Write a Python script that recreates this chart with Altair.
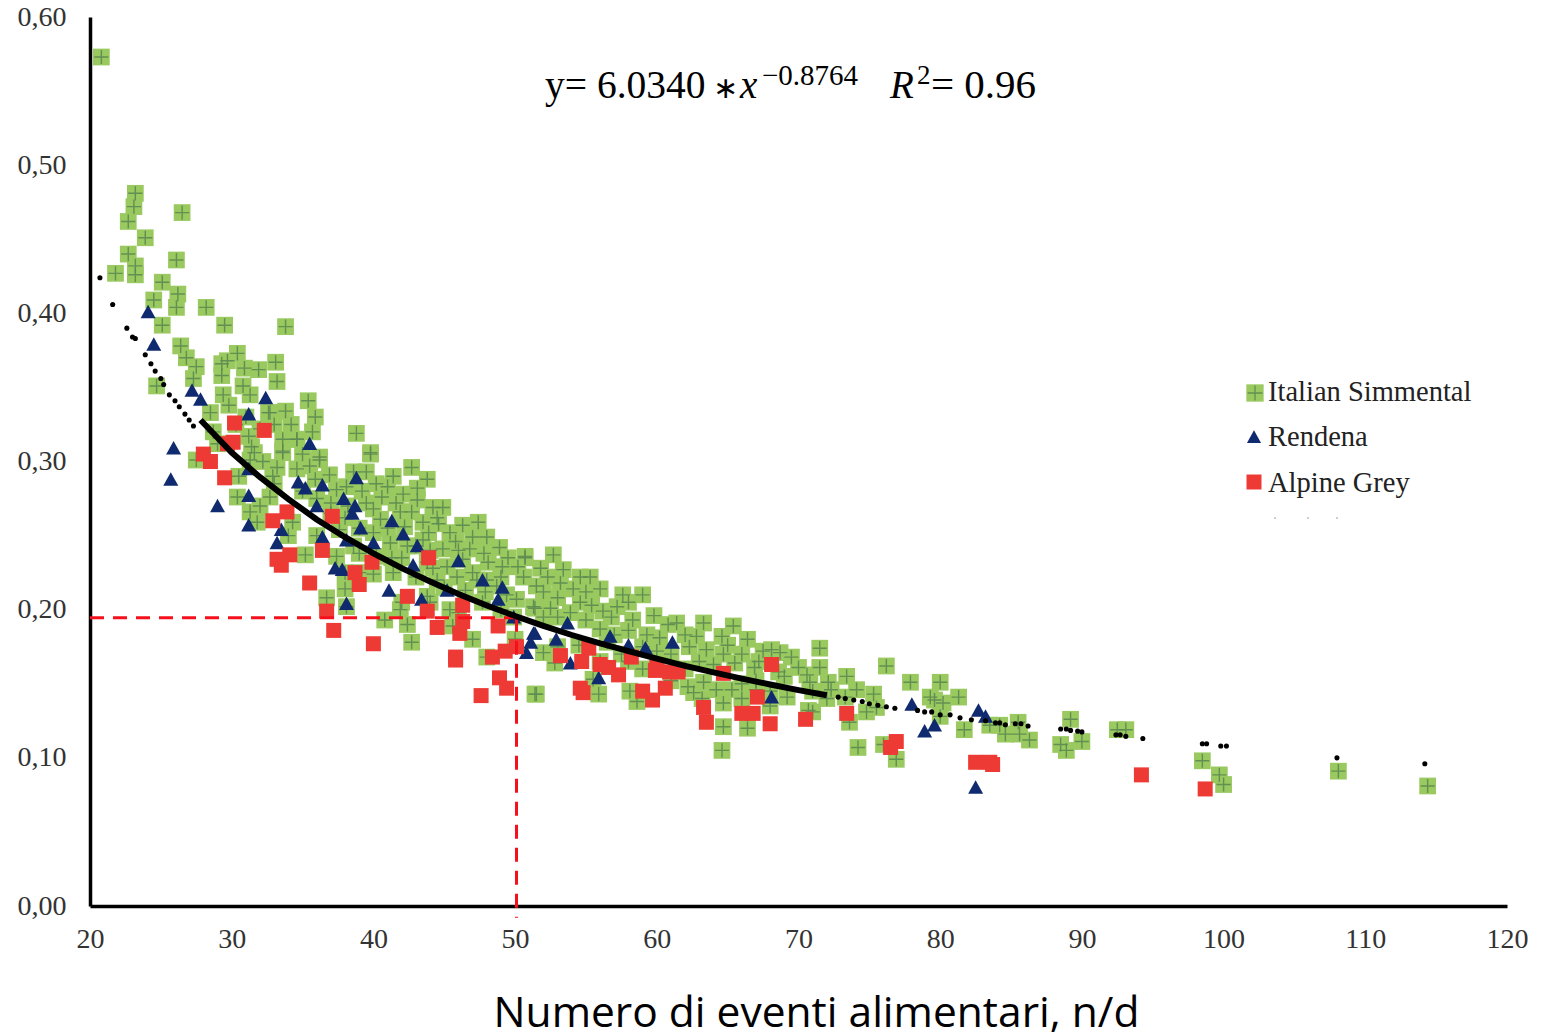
import altair as alt
import pandas as pd

simmental = [
(20.8,.573),(23.2,.481),(23.1,.472),(22.7,.462),(26.5,.468),(23.9,.451),(22.7,.440),(23.2,.432),(23.2,.426),(21.8,.427),
(26.1,.436),(25.1,.421),(26.2,.413),(24.5,.409),(26.1,.404),(28.2,.404),(25.1,.392),(29.5,.392),(33.8,.391),(26.4,.378),
(26.8,.370),(27.5,.364),(27.3,.356),(24.7,.351),(29.3,.366),(29.7,.368),(30.4,.373),(30.9,.363),(31.9,.362),(33.1,.367),
(33.2,.354),(29.3,.358),(30.8,.351),(29.4,.345),(31.3,.345),(35.4,.341),(33.8,.334),(35.9,.330),(32.6,.333),(29.8,.338),
(28.5,.333),(35.7,.320),(38.8,.319),(28.7,.320),(31.2,.317),(33.6,.315),(34.6,.315),(31.4,.310),(33.6,.306),(39.8,.306),
(36.2,.303),(32.7,.333),(39.8,.305),(39.5,.293),(38.6,.293),(42.7,.296),(41.0,.283),(43.1,.282),(42.1,.278),(40.6,.276),
(44.9,.269),(44.2,.269),(43.1,.274),(42.7,.266),(33.6,.307),(34.6,.315),(31.6,.306),(36.2,.301),(34.6,.295),(36.9,.291),
(35.5,.297),(32.9,.290),(31.3,.301),(27.5,.301),(30.4,.276),(32.7,.276),(34.3,.259),(31.3,.266),(31.8,.259),(35.2,.237),
(39.5,.272),(38.1,.283),(40.5,.261),(41.9,.266),(43.5,.259),(45.4,.252),(44.9,.241),(46.3,.257),(47.4,.259),(48.0,.249),
(48.9,.242),(50.7,.235),(50.2,.229),(48.1,.232),(47.0,.249),(49.1,.229),(46.3,.234),(45.2,.229),(43.8,.232),(41.2,.245),
(42.4,.243),(43.5,.247),(38.6,.243),(37.6,.254),(37.4,.236),(41.4,.225),(40.0,.224),(44.5,.220),(45.9,.222),(47.3,.220),
(48.7,.216),(50.1,.207),(49.4,.210),(51.5,.216),(51.3,.202),(47.7,.205),(45.4,.200),(43.8,.209),(41.9,.200),(40.8,.193),
(42.4,.190),(42.7,.178),(36.7,.208),(38.0,.214),(38.1,.202),(45.6,.189),(47.0,.180),(48.0,.168),(51.4,.143),(49.9,.195),
(52.7,.237),(50.7,.236),(53.4,.227),(52.3,.222),(54.6,.222),(55.3,.222),(56.0,.214),(54.1,.214),(52.0,.212),(53.0,.208),
(57.6,.210),(59.0,.210),(54.6,.205),(51.4,.201),(56.2,.199),(58.3,.193),(56.8,.195),(52.5,.201),(53.9,.198),(58.0,.186),
(61.4,.191),(63.3,.191),(65.4,.189),(62.0,.183),(64.6,.182),(66.4,.180),(60.2,.181),(59.3,.183),(62.3,.175),(63.5,.173),
(71.5,.174),(68.7,.171),(67.5,.172),(68.1,.173),(64.7,.170),(65.5,.164),(66.9,.161),(70.0,.161),(71.5,.161),(76.2,.162),
(73.4,.155),(77.9,.151),(80.0,.151),(72.1,.151),(70.8,.151),(63.3,.151),(62.2,.148),(65.3,.146),(64.2,.146),(74.1,.146),
(75.3,.143),(79.3,.141),(73.3,.141),(69.2,.141),(70.7,.132),(74.8,.131),(75.5,.134),(80.2,.137),(80.0,.128),(58.1,.145),
(55.9,.143),(58.6,.138),(51.5,.143),(64.7,.121),(64.7,.137),(66.4,.120),(71.0,.131),(64.6,.105),(74.2,.107),(76.9,.099),
(76.0,.109),(73.6,.124),(52.0,.171),(52.8,.164),(62.6,.144),(55.5,.153),(81.3,.141),(79.6,.139),(81.7,.119),(83.5,.122),
(84.2,.122),(85.5,.124),(84.6,.116),(85.6,.116),(86.3,.112),(89.2,.126),(88.5,.109),(88.9,.105),(90.0,.111),(92.5,.119),
(93.1,.119),(98.5,.098),(99.7,.0885),(100.0,.082),(108.1,.091),(114.4,.081),
(33.0,.285),(35.0,.280),(36.0,.275),(37.0,.265),(38.0,.262),(39.0,.255),(40.0,.252),(41.0,.255),(42.0,.235),(43.0,.243),
(44.0,.240),(46.0,.240),(47.0,.225),(48.0,.220),(49.0,.222),(52.0,.195),(53.0,.195),(55.0,.193),(56.0,.187),(57.0,.183),
(59.0,.175),(60.0,.172),(61.0,.170),(63.0,.165),(64.0,.163),(66.0,.150),(67.0,.152),(68.0,.145),(69.0,.155),(71.0,.145),
(72.0,.140),(30.5,.290),(32.0,.270),(34.0,.250),(36.0,.250),(38.0,.225),(39.0,.225),(42.0,.205),(44.0,.205),(46.0,.198),
(50.0,.180),(53.0,.175),(56.0,.165),(58.0,.165),(60.0,.160),(62.0,.160),(66.0,.140),(68.0,.135),
(29.0,.312),(30.3,.325),(31.0,.330),(32.0,.322),(33.0,.325),(34.2,.325),(32.2,.300),(33.2,.296),(35.0,.305),(35.9,.288),
(37.4,.281),(37.0,.272),(38.2,.270),(39.2,.280),(40.0,.268),(41.6,.272),(42.2,.256),(43.9,.252),(44.6,.258),(45.8,.246),
(46.8,.241),(47.8,.238),(49.5,.235),(40.2,.285),(41.4,.290),(43.8,.288),(44.5,.262),(39.0,.238),(40.2,.236),(41.3,.235),
(43.0,.222),(44.2,.228),(45.0,.215),(46.5,.213),(47.9,.212),(49.0,.200),(50.6,.222),(51.8,.228),(53.2,.218),(55.0,.212),
(57.2,.202),(58.0,.205),(55.4,.203),(59.8,.196),(60.8,.190),(56.5,.178),(54.5,.176),(57.5,.170),(59.0,.160),(61.0,.152),
(62.8,.182),(65.0,.176),(66.0,.170),(67.2,.165),(69.5,.168),(70.6,.156),(72.3,.146),(67.0,.146),(68.6,.158),(63.2,.140),
]

rendena = [
(24.1,.401),(24.5,.379),(27.2,.348),(27.8,.342),(32.4,.343),(31.2,.332),(35.5,.312),(25.9,.309),(25.7,.288),(29.0,.270),
(31.2,.295),(34.7,.286),(35.2,.282),(36.4,.284),(38.8,.289),(31.2,.277),(31.2,.257),(33.5,.254),(33.2,.245),(36.0,.270),
(37.9,.275),(38.7,.270),(38.5,.265),(41.3,.260),(39.1,.255),(42.1,.251),(43.1,.243),(40.0,.245),(36.4,.249),(38.1,.247),
(37.3,.228),(37.8,.227),(46.0,.233),(42.8,.230),(47.7,.220),(49.1,.215),(41.1,.213),(43.4,.207),(45.2,.213),(38.1,.204),
(48.8,.207),(49.9,.195),(51.3,.184),(50.8,.171),(51.4,.184),(51.1,.178),(52.9,.180),(53.7,.191),(56.7,.182),(58.0,.176),
(59.2,.174),(61.1,.178),(55.9,.154),(53.9,.164),(68.1,.141),(78.0,.136),(79.6,.122),(78.9,.118),(82.7,.132),(83.2,.128),
(82.5,.080),
]

alpine = [
(30.2,.326),(32.3,.321),(30.1,.313),(29.7,.312),(28.0,.305),(28.5,.300),(29.5,.289),(33.9,.266),(32.9,.260),(37.1,.263),
(43.9,.235),(36.4,.240),(34.1,.237),(33.2,.234),(33.5,.230),(39.9,.232),(38.7,.225),(39.0,.217),(35.5,.218),(42.4,.209),
(46.3,.203),(43.8,.199),(36.7,.199),(37.2,.186),(44.5,.188),(46.3,.192),(46.1,.184),(48.8,.189),(40.0,.177),(45.8,.168),
(45.8,.166),(48.4,.168),(49.3,.172),(50.1,.175),(48.9,.154),(49.4,.147),(47.6,.142),(53.2,.169),(54.7,.165),(55.2,.174),
(56.0,.163),(56.6,.161),(57.3,.156),(54.6,.147),(54.8,.144),(58.2,.168),(59.9,.159),(60.9,.158),(61.5,.158),(60.0,.161),
(60.6,.147),(59.0,.145),(59.7,.139),(64.7,.157),(68.1,.163),(67.1,.141),(63.3,.134),(63.5,.124),(66.0,.130),(66.8,.130),
(68.0,.123),(70.5,.126),(73.4,.130),(76.9,.111),(76.5,.107),(82.5,.097),(83.5,.097),(83.7,.0955),(94.2,.0885),(98.7,.079),
]

trend_line = [
(27.8,.328),(30,.306),(32,.2894),(34,.2746),(36,.2609),(38,.2489),(40,.2380),(42,.2280),(44,.2190),(46,.2106),(48,.2028),
(50,.1957),(52,.1891),(54,.1829),(56,.1772),(58,.1720),(60,.1669),(62,.1621),(64,.1577),(66,.1535),(68,.1495),(70,.1457),(72,.1422),
]
trend_dots = [
(20.7,.424),(21.6,.406),(22.6,.390),(23.0,.384),(23.2,.383),(23.9,.372),(24.3,.366),(24.6,.361),(25.0,.356),(25.2,.352),
(25.6,.345),(26.0,.341),(26.3,.337),(26.7,.332),(27.0,.328),(27.3,.324),(72.8,.141),(73.3,.140),(73.9,.139),(74.5,.138),
(75.0,.1365),(75.6,.1355),(76.2,.1345),(76.8,.1335),(78.4,.132),(78.9,.131),(79.4,.131),(80.0,.129),(80.7,.129),(81.4,.127),
(82.2,.1257),(83.2,.125),(83.9,.1236),(84.2,.1236),(84.6,.1223),(85.3,.123),(85.7,.123),(86.2,.1215),(88.5,.1195),(88.9,.1195),
(89.2,.1185),(89.7,.118),(90.0,.1175),(92.4,.1155),(92.7,.1155),(93.1,.1145),(94.3,.113),(98.5,.1095),(98.8,.1095),(99.8,.108),
(100.2,.108),(108.0,.100),(114.2,.096),
]

x_ticks = [20, 30, 40, 50, 60, 70, 80, 90, 100, 110, 120]
y_ticks = [0.0, 0.1, 0.2, 0.3, 0.4, 0.5, 0.6]
ref_x = 50.1
ref_y = 0.1945

def frame(pairs):
    return pd.DataFrame(pairs, columns=["x", "y"])

X = alt.X("x:Q", scale=alt.Scale(domain=[20, 120], nice=False), axis=alt.Axis(
        values=x_ticks, grid=False, ticks=False, domainColor="black", domainWidth=3.5,
        labelFont="Liberation Serif", labelFontSize=28, labelColor="#333333", labelPadding=19,
        labelFlush=False, labelOverlap=False, labelBound=False,
        title="Numero di eventi alimentari, n/d", titleFont="Open Sans", titleFontSize=42.5,
        titleFontWeight="normal", titleColor="black", titleX=726, titleY=120, titleBaseline="alphabetic"))
Y = alt.Y("y:Q", scale=alt.Scale(domain=[0, 0.6], nice=False), axis=alt.Axis(
        values=y_ticks, grid=False, ticks=False, domainColor="black", domainWidth=3.5,
        labelFont="Liberation Serif", labelFontSize=28, labelColor="#333333", labelPadding=24,
        labelFlush=False, labelOverlap=False, labelBound=False,
        labelExpr="replace(format(datum.value,'.2f'),'.',',')", title=None))

GREEN = "#99c95f"
CROSS = "#5d8a52"
NAVY = "#0f2a6e"
RED = "#ee3a35"
CROSS_PATH = "M-1,0H1M0,-1V1"
TRI_PATH = "M0,-0.95L1,0.85L-1,0.85Z"

sim_sq = alt.Chart(frame(simmental)).mark_square(color=GREEN, size=280, opacity=1).encode(x=X, y=Y)
sim_cr = alt.Chart(frame(simmental)).mark_point(shape=CROSS_PATH, stroke=CROSS, strokeWidth=1.4, size=200, filled=False, opacity=0.9).encode(x=X, y=Y)
ren = alt.Chart(frame(rendena)).mark_point(shape=TRI_PATH, color=NAVY, fill=NAVY, filled=True, size=225, opacity=1).encode(x=X, y=Y)
alp = alt.Chart(frame(alpine)).mark_square(color=RED, size=225, opacity=1).encode(x=X, y=Y)
t_line = alt.Chart(frame(trend_line)).mark_line(color="black", strokeWidth=6).encode(x=X, y=Y)
t_dots = alt.Chart(frame(trend_dots)).mark_circle(color="black", size=26, opacity=1).encode(x=X, y=Y)

h_ref = alt.Chart(pd.DataFrame({"x": [20], "x2": [ref_x], "y": [ref_y]})).mark_rule(
    color="#f5101c", strokeWidth=3, strokeDash=[14, 9]).encode(x=X, x2="x2:Q", y=Y)
v_ref = alt.Chart(pd.DataFrame({"x": [ref_x], "y": [ref_y], "y2": [-0.008]})).mark_rule(
    color="#f5101c", strokeWidth=3, strokeDash=[14, 9]).encode(x=X, y=Y, y2="y2:Q")

one = alt.Chart(pd.DataFrame({"a": [0]}))
def label(text, px, py, size, font="Liberation Serif", style="normal", color="black"):
    return one.mark_text(text=text, x=px - 90, y=py - 17, fontSize=size, font=font, fontStyle=style,
                         align="left", baseline="alphabetic", color=color)

formula = [
    label("y= 6.0340", 545, 98, 39.5),
    label("∗", 713, 98, 30, font="DejaVu Sans"),
    label("x", 740, 98, 39, style="italic"),
    label("−0.8764", 762, 85, 29),
    label("R", 890, 98, 39, style="italic"),
    label("2", 917, 84, 27),
    label("= 0.96", 931, 98, 41),
]

legend = [
    one.mark_square(color=GREEN, size=300, x=1255 - 90, y=393 - 17, opacity=1),
    one.mark_point(shape=CROSS_PATH, stroke=CROSS, strokeWidth=1.3, size=220, filled=False, x=1255 - 90, y=393 - 17, opacity=0.9),
    one.mark_point(shape=TRI_PATH, fill=NAVY, color=NAVY, filled=True, size=200, x=1254 - 90, y=437 - 17, opacity=1),
    one.mark_square(color=RED, size=225, x=1254 - 90, y=482 - 17, opacity=1),
    label("Italian Simmental", 1268, 401, 28.5, color="#222222"),
    label("Rendena", 1268, 446, 28.5, color="#222222"),
    label("Alpine Grey", 1268, 492, 28.5, color="#222222"),
]
legend_specks = [one.mark_circle(color="#c4c4c4", size=5, x=px - 90, y=518 - 17, opacity=1) for px in (1275, 1308, 1337)]

chart = alt.layer(
    sim_sq, sim_cr, ren, alp, h_ref, v_ref, t_line, t_dots, *formula, *legend, *legend_specks
).properties(
    width=1417, height=889,
    background="white",
    autosize=alt.AutoSizeParams(type="none"),
    padding={"left": 82, "top": 9, "right": 30, "bottom": 129},
).configure_view(stroke=None)

chart.save("out.html", embed_options={"renderer": "svg", "actions": False})
